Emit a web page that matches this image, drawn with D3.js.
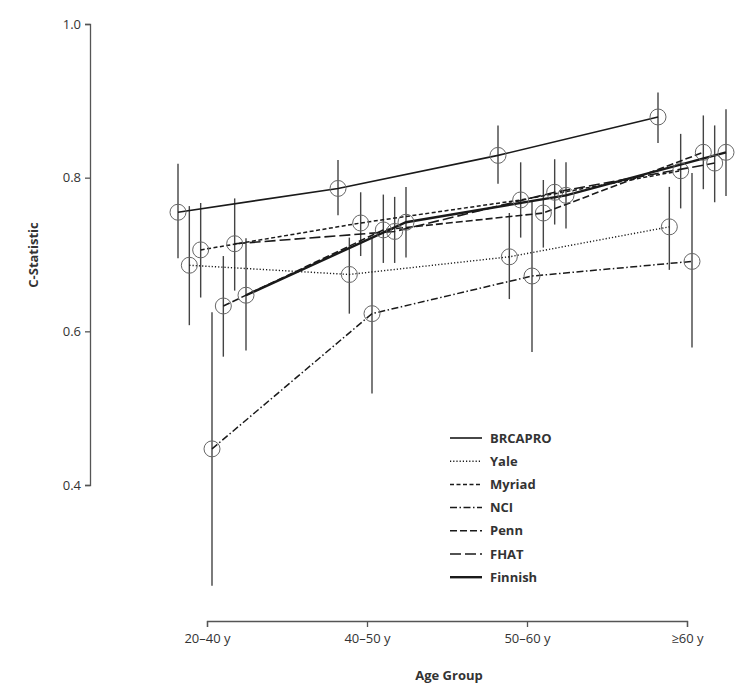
<!DOCTYPE html>
<html>
<head>
<meta charset="utf-8">
<script src="https://cdn.jsdelivr.net/npm/d3@7"></script>
<style>
  body { margin: 0; background: #fff; }
  text { font-family: "Open Sans", "Noto Sans", sans-serif; fill: #333; }
</style>
</head>
<body id="body">
<svg id="chart" width="750" height="691"></svg>
<script>
var ageGroups = ["20–40 y", "40–50 y", "50–60 y", "≥60 y"];
var models = ["BRCAPRO", "Yale", "Myriad", "NCI", "Penn", "FHAT", "Finnish"];
var yTicks = [0.4, 0.6, 0.8, 1.0];

// c-statistic per age group, then lower / upper limits
var brcapro = [0.755, 0.786, 0.829, 0.879];
var brcaproLo = [0.695, 0.751, 0.792, 0.845];
var brcaproHi = [0.818, 0.823, 0.868, 0.911];

var yale = [0.686, 0.674, 0.697, 0.736];
var yaleLo = [0.608, 0.623, 0.642, 0.680];
var yaleHi = [0.763, 0.722, 0.754, 0.788];

var myriad = [0.706, 0.741, 0.771, 0.809];
var myriadLo = [0.644, 0.698, 0.722, 0.760];
var myriadHi = [0.767, 0.781, 0.820, 0.857];

var nci = [0.447, 0.623, 0.672, 0.691];
var nciLo = [0.269, 0.519, 0.573, 0.579];
var nciHi = [0.625, 0.722, 0.771, 0.806];

var penn = [0.633, 0.732, 0.754, 0.833];
var pennLo = [0.567, 0.689, 0.709, 0.785];
var pennHi = [0.698, 0.778, 0.797, 0.881];

var fhat = [0.714, 0.730, 0.781, 0.819];
var fhatLo = [0.653, 0.689, 0.739, 0.768];
var fhatHi = [0.773, 0.775, 0.824, 0.868];

var finnish = [0.647, 0.742, 0.777, 0.833];
var finnishLo = [0.575, 0.696, 0.734, 0.776];
var finnishHi = [0.721, 0.788, 0.820, 0.889];

var values = [brcapro, yale, myriad, nci, penn, fhat, finnish];
var lows = [brcaproLo, yaleLo, myriadLo, nciLo, pennLo, fhatLo, finnishLo];
var highs = [brcaproHi, yaleHi, myriadHi, nciHi, pennHi, fhatHi, finnishHi];

var dashes = ["none", "1.2,2", "4,2.5", "7,2.5,1.5,2.5", "7,3", "11,4", "none"];
var widths = [1.6, 1.4, 1.5, 1.5, 1.6, 1.6, 2.4];

var svg = d3.select("#chart");

var x = d3.scalePoint().domain(ageGroups).range([207, 687]);
var y = d3.scaleLinear().domain([0.4, 1.0]).range([485, 24]);

// spread the 7 models side by side around each age tick
var dodge = d3.scalePoint().domain(models).range([-29, 39]);

function px(model, i) { return x(ageGroups[i]) + dodge(model); }

var series = models.map(function(m, k) {
  return {
    name: m,
    dash: dashes[k],
    width: widths[k],
    pts: ageGroups.map(function(g, i) {
      return { x: px(m, i), v: values[k][i], lo: lows[k][i], hi: highs[k][i] };
    })
  };
});

// axes
var yAxis = svg.append("g")
  .attr("transform", "translate(90,0)")
  .call(d3.axisLeft(y).tickValues(yTicks).tickFormat(d3.format(".1f")).tickSize(5).tickSizeOuter(5).tickPadding(4));

var xAxis = svg.append("g")
  .attr("transform", "translate(0,621)")
  .call(d3.axisBottom(x).tickSize(6).tickSizeOuter(6).tickPadding(7));

[yAxis, xAxis].forEach(function(a) {
  a.selectAll("path, line").attr("stroke", "#555").attr("stroke-width", 1.3);
  a.selectAll("text").style("font-size", "13px").attr("fill", "#333");
});

svg.append("text")
  .attr("transform", "translate(38,255) rotate(-90)")
  .attr("text-anchor", "middle")
  .style("font-size", "13px").style("font-weight", "bold")
  .text("C-Statistic");

svg.append("text")
  .attr("x", 449).attr("y", 680)
  .attr("text-anchor", "middle")
  .style("font-size", "13px").style("font-weight", "bold")
  .text("Age Group");

// confidence intervals
var ci = svg.append("g");
series.forEach(function(s) {
  ci.selectAll(null)
    .data(s.pts)
    .enter().append("line")
    .attr("x1", d => d.x).attr("x2", d => d.x)
    .attr("y1", d => y(d.lo)).attr("y2", d => y(d.hi))
    .attr("stroke", "#444").attr("stroke-width", 1.4);
});

// model lines
var line = d3.line().x(d => d.x).y(d => y(d.v));
svg.append("g").selectAll("path")
  .data(series)
  .enter().append("path")
  .attr("d", d => line(d.pts))
  .attr("fill", "none")
  .attr("stroke", "#1a1a1a")
  .attr("stroke-width", d => d.width)
  .attr("stroke-dasharray", d => d.dash);

// open circles at each estimate
var dots = svg.append("g");
series.forEach(function(s) {
  dots.selectAll(null)
    .data(s.pts)
    .enter().append("circle")
    .attr("cx", d => d.x).attr("cy", d => y(d.v))
    .attr("r", 8)
    .attr("fill", "none")
    .attr("stroke", "#666").attr("stroke-width", 1);
});

// legend
var legend = svg.append("g").attr("transform", "translate(450,438)");
var row = legend.selectAll("g")
  .data(series)
  .enter().append("g")
  .attr("transform", (d, i) => "translate(0," + (i * 23.2) + ")");

row.append("line")
  .attr("x1", 0).attr("x2", 32)
  .attr("stroke", "#1a1a1a")
  .attr("stroke-width", d => d.width)
  .attr("stroke-dasharray", d => d.dash);

row.append("text")
  .attr("x", 40).attr("dy", "0.35em")
  .style("font-size", "13px").style("font-weight", "bold")
  .attr("fill", "#222")
  .text(d => d.name);
</script>
</body>
</html>
